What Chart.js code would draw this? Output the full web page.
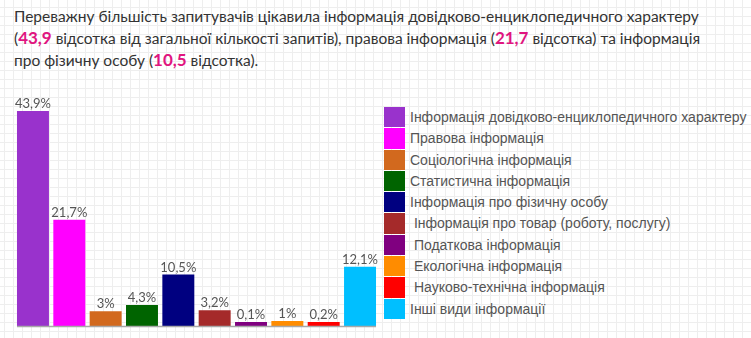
<!DOCTYPE html>
<html>
<head>
<meta charset="utf-8">
<script src="https://cdn.jsdelivr.net/npm/chart.js@4/dist/chart.umd.min.js"></script>
<style>
  html, body { margin: 0; padding: 0; }
  body {
    width: 751px; height: 338px; overflow: hidden; position: relative;
    background-color: #ffffff;
    background-image:
      linear-gradient(#eeeeee 1px, transparent 1px),
      linear-gradient(90deg, #eeeeee 1px, transparent 1px);
    background-size: 9px 9px;
    background-position: 4px 7px;
  }
  #title {
    position: absolute; left: 14px; top: 5px; width: 735px;
    font-family: Lato, sans-serif; font-size: 15.5px; line-height: 22px;
    color: #333333; white-space: nowrap;
  }
  #title b { color: #e0157f; font-weight: 700; font-size: 17px; }
  #chartWrap { position: absolute; left: 0; top: 80px; width: 380px; height: 258px; }
  #legend {
    position: absolute; left: 384px; top: 107px;
    font-family: "Liberation Sans", Arial, sans-serif; font-size: 14px; color: #555555;
  }
  .row { position: relative; height: 21.3px; }
  .sw { position: absolute; left: 0; top: 0; width: 21px; height: 20.3px; }
  .lt { position: absolute; left: 26px; top: 0; line-height: 21px; white-space: pre; }
</style>
</head>
<body>
<div id="title"></div>
<div id="chartWrap"><canvas id="c" width="380" height="258"></canvas></div>
<div id="legend"></div>
<script>
const categories = [
  "Інформація довідково-енциклопедичного характеру",
  "Правова інформація",
  "Соціологічна інформація",
  "Статистична інформація",
  "Інформація про фізичну особу",
  " Інформація про товар (роботу, послугу)",
  " Податкова інформація",
  " Екологічна інформація",
  " Науково-технічна інформація",
  "Інші види інформації"
];
const values = [43.9, 21.7, 3, 4.3, 10.5, 3.2, 0.1, 1, 0.2, 12.1];
const colors = ["#9932CC", "#FF00FF", "#D2691E", "#006400", "#000080", "#A52A2A", "#800080", "#FF8C00", "#FF0000", "#00BFFF"];
const titleParts = [
  "Переважну більшість запитувачів цікавила інформація довідково-енциклопедичного характеру<br>(",
  " відсотка від загальної кількості запитів), правова інформація (",
  " відсотка) та інформація<br>про фізичну особу (",
  " відсотка)."
];
const titleNumbers = ["43,9", "21,7", "10,5"];

function fmt(v) { return String(v).replace('.', ',') + '%'; }

// title
let html = titleParts[0];
for (let i = 0; i < titleNumbers.length; i++) {
  html += '<b>' + titleNumbers[i] + '</b>' + titleParts[i + 1];
}
document.getElementById('title').innerHTML = html;

// legend
const leg = document.getElementById('legend');
categories.forEach((c, i) => {
  const row = document.createElement('div');
  row.className = 'row';
  row.innerHTML = '<div class="sw" style="background:' + colors[i] + '"></div><div class="lt"></div>';
  row.querySelector('.lt').textContent = c;
  leg.appendChild(row);
});

const labelPlugin = {
  id: 'barLabels',
  afterDatasetsDraw(chart) {
    const ctx = chart.ctx;
    const meta = chart.getDatasetMeta(0);
    ctx.save();
    // baseline under bars
    const first = meta.data[0], last = meta.data[meta.data.length - 1];
    ctx.strokeStyle = '#a8a8a8';
    ctx.lineWidth = 1.5;
    ctx.beginPath();
    ctx.moveTo(first.x - first.width / 2, first.base + 0.5);
    ctx.lineTo(last.x + last.width / 2, first.base + 0.5);
    ctx.stroke();
    ctx.fillStyle = '#555555';
    ctx.font = '13px Lato, sans-serif';
    ctx.textAlign = 'center';
    ctx.textBaseline = 'alphabetic';
    meta.data.forEach((bar, i) => {
      ctx.fillText(fmt(values[i]), bar.x, bar.y - 3);
    });
    ctx.restore();
  }
};

new Chart(document.getElementById('c'), {
  type: 'bar',
  data: {
    labels: categories,
    datasets: [{
      data: values,
      backgroundColor: colors,
      borderWidth: 0,
      barPercentage: 0.88,
      categoryPercentage: 1,
      minBarLength: 4
    }]
  },
  options: {
    responsive: false,
    animation: false,
    devicePixelRatio: 1,
    layout: { padding: { left: 14.8, right: 1.8, top: 20.6, bottom: 12 } },
    plugins: { legend: { display: false }, tooltip: { enabled: false } },
    scales: {
      x: { display: false },
      y: { display: false, min: 0, max: 46 }
    }
  },
  plugins: [labelPlugin]
});
</script>
</body>
</html>
